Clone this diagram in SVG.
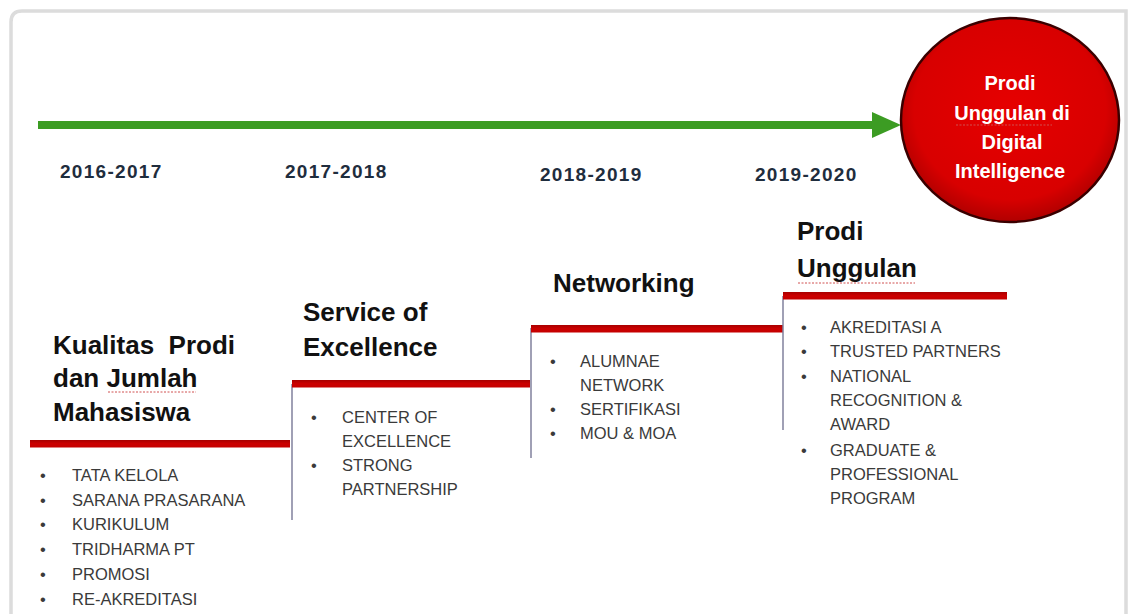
<svg xmlns="http://www.w3.org/2000/svg" width="1132" height="614" viewBox="0 0 1132 614">
<style>
  .title { font-family: "Liberation Sans", Arial, sans-serif; font-weight: bold; font-size: 26px; fill: #111111; }
  .item { font-family: "Liberation Sans", Arial, sans-serif; font-size: 16.5px; fill: #3a3a3a; }
  .year { font-family: "Liberation Sans", Arial, sans-serif; font-weight: bold; font-size: 19px; fill: #1f2d3d; letter-spacing: 1.3px; }
  .goal { font-family: "Liberation Sans", Arial, sans-serif; font-weight: bold; font-size: 20px; fill: #ffffff; text-anchor: middle; }
  .step { fill: url(#redbar); }
  .riser { stroke: #80809c; stroke-width: 1.5; fill: none; }
  .squig { stroke: #d05050; stroke-width: 1; fill: none; stroke-dasharray: 2 1.5; }
</style>
<defs>
  <linearGradient id="redbar" x1="0" y1="0" x2="0" y2="1">
    <stop offset="0" stop-color="#a80000"/>
    <stop offset="0.5" stop-color="#cc0000"/>
    <stop offset="1" stop-color="#c40000"/>
  </linearGradient>
  <radialGradient id="ball" cx="0.5" cy="0.45" r="0.55">
    <stop offset="0" stop-color="#e60000"/>
    <stop offset="0.8" stop-color="#d80000"/>
    <stop offset="1" stop-color="#b00000"/>
  </radialGradient>
</defs>

<rect width="1132" height="614" fill="#ffffff"/>
<path d="M 11 614 V 22 Q 11 11 22 11 H 1126 V 614" fill="none" stroke="#dcdcdc" stroke-width="3.5"/>

<g id="connectors">
  <line x1="38" y1="125" x2="875" y2="125" stroke="#3c9c23" stroke-width="8"/>
  <polygon points="872,112 901,125 872,138" fill="#3c9c23"/>
</g>

<g id="years">
  <text class="year" x="60" y="178">2016-2017</text>
  <text class="year" x="285" y="178">2017-2018</text>
  <text class="year" x="540" y="181">2018-2019</text>
  <text class="year" x="755" y="181">2019-2020</text>
</g>

<g id="goal">
  <ellipse cx="1010" cy="120" rx="109" ry="102" fill="url(#ball)" stroke="#3a0000" stroke-width="2.5"/>
  <text class="goal" x="1010" y="90">Prodi</text>
  <text class="goal" x="1012" y="120">Unggulan di</text>
  <text class="goal" x="1012" y="149">Digital</text>
  <text class="goal" x="1010" y="178">Intelligence</text>
  <path class="squig" d="M 956 125 H 1052"/>
</g>

<g id="step1">
  <rect class="step" x="30" y="440" width="260" height="7.5"/>
  <text class="title" x="53" y="354">Kualitas&#160; Prodi</text>
  <text class="title" x="53" y="387">dan Jumlah</text>
  <path class="squig" d="M 108 392 H 196"/>
  <text class="title" x="53" y="421">Mahasiswa</text>
  <text class="item" x="40" y="481">•</text><text class="item" x="72" y="481">TATA KELOLA</text>
  <text class="item" x="40" y="506">•</text><text class="item" x="72" y="506">SARANA PRASARANA</text>
  <text class="item" x="40" y="530">•</text><text class="item" x="72" y="530">KURIKULUM</text>
  <text class="item" x="40" y="555">•</text><text class="item" x="72" y="555">TRIDHARMA PT</text>
  <text class="item" x="40" y="580">•</text><text class="item" x="72" y="580">PROMOSI</text>
  <text class="item" x="40" y="605">•</text><text class="item" x="72" y="605">RE-AKREDITASI</text>
</g>

<g id="step2">
  <line class="riser" x1="292" y1="384" x2="292" y2="520"/>
  <rect class="step" x="292" y="380" width="238" height="7.5"/>
  <text class="title" x="303" y="321">Service of</text>
  <text class="title" x="303" y="356">Excellence</text>
  <text class="item" x="311" y="423">•</text><text class="item" x="342" y="423">CENTER OF</text>
  <text class="item" x="342" y="447">EXCELLENCE</text>
  <text class="item" x="311" y="471">•</text><text class="item" x="342" y="471">STRONG</text>
  <text class="item" x="342" y="495">PARTNERSHIP</text>
</g>

<g id="step3">
  <line class="riser" x1="531" y1="328" x2="531" y2="458"/>
  <rect class="step" x="531" y="325" width="252" height="7.5"/>
  <text class="title" x="553" y="292">Networking</text>
  <text class="item" x="550" y="367">•</text><text class="item" x="580" y="367">ALUMNAE</text>
  <text class="item" x="580" y="391">NETWORK</text>
  <text class="item" x="550" y="415">•</text><text class="item" x="580" y="415">SERTIFIKASI</text>
  <text class="item" x="550" y="439">•</text><text class="item" x="580" y="439">MOU &amp; MOA</text>
</g>

<g id="step4">
  <line class="riser" x1="783" y1="296" x2="783" y2="430"/>
  <rect class="step" x="783" y="292" width="224" height="7.5"/>
  <text class="title" x="797" y="240">Prodi</text>
  <text class="title" x="797" y="277">Unggulan</text>
  <path class="squig" d="M 798 283 H 915"/>
  <text class="item" x="801" y="333">•</text><text class="item" x="830" y="333">AKREDITASI A</text>
  <text class="item" x="801" y="357">•</text><text class="item" x="830" y="357">TRUSTED PARTNERS</text>
  <text class="item" x="801" y="382">•</text><text class="item" x="830" y="382">NATIONAL</text>
  <text class="item" x="830" y="406">RECOGNITION &amp;</text>
  <text class="item" x="830" y="430">AWARD</text>
  <text class="item" x="801" y="456">•</text><text class="item" x="830" y="456">GRADUATE &amp;</text>
  <text class="item" x="830" y="480">PROFESSIONAL</text>
  <text class="item" x="830" y="504">PROGRAM</text>
</g>
</svg>
